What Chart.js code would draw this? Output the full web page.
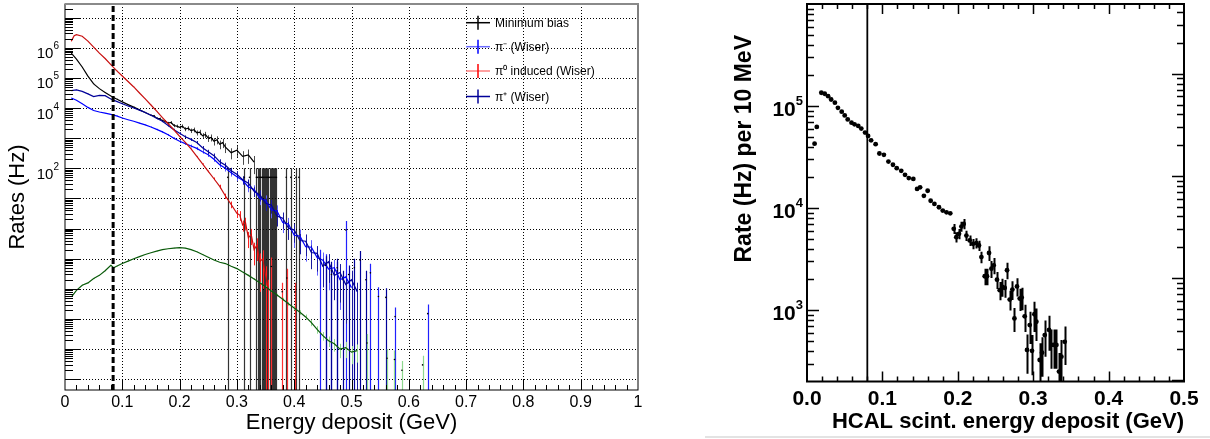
<!DOCTYPE html>
<html>
<head>
<meta charset="utf-8">
<script src="https://cdn.jsdelivr.net/npm/chart.js@4.4.0/dist/chart.umd.min.js"></script>
<style>
  html, body { margin: 0; padding: 0; background: #fff; }
  body { width: 1210px; height: 439px; position: relative; overflow: hidden; }
  #left  { position: absolute; left: 0;     top: 0; width: 660px; height: 439px; }
  #right { position: absolute; left: 700px; top: 0; width: 510px; height: 439px; }
  #sep   { position: absolute; left: 705px; top: 436px; width: 505px; height: 2px; background: #e3e3e3; }
</style>
</head>
<body>
<div id="left"><canvas id="c-left"></canvas></div>
<div id="right"><canvas id="c-right"></canvas></div>
<div id="sep"></div>
<script>
/* =========================================================
   Rates vs energy deposit — two log-scale panels
   ========================================================= */

// ----- left panel: simulated rates (Hz) -----
const LEFT_Y_MIN = 4.4e-6;
const LEFT_Y_MAX = 2.83e7;
const CUT_LEFT = 0.084;      // dotted threshold line

const leftDecades = [1e-5, 1e-4, 1e-3, 1e-2, 1e-1, 1, 1e1, 1e2, 1e3, 1e4, 1e5, 1e6, 1e7];
const leftLabelled = [1e2, 1e4, 1e5, 1e6];
const leftXMajor = [0.1, 0.2, 0.3, 0.4, 0.5, 0.6, 0.7, 0.8, 0.9];

// Minimum bias (black)
const mbX = [0.011, 0.02, 0.03, 0.04, 0.05, 0.06, 0.07, 0.08, 0.09, 0.10, 0.11, 0.12, 0.13, 0.14, 0.15,
  0.155, 0.16, 0.165, 0.17, 0.175, 0.18, 0.185, 0.19, 0.195, 0.20, 0.205, 0.21, 0.215, 0.22, 0.225,
  0.23, 0.235, 0.24, 0.245, 0.25, 0.255, 0.26, 0.265, 0.27, 0.275, 0.28, 0.29, 0.30, 0.31, 0.32, 0.33];
const mbY = [6.6e5, 4.2e5, 2.3e5, 1.15e5, 6.3e4, 4.4e4, 3.3e4, 2.5e4, 2.0e4, 1.6e4, 1.3e4, 1.07e4, 8700, 7100, 5750,
  5500, 4570, 4470, 3800, 3630, 3160, 3310, 2630, 2510, 2290, 2510, 2000, 2140, 1780, 1900,
  1510, 1580, 1200, 1320, 1000, 1050, 790, 890, 630, 710, 500, 330, 400, 250, 280, 160];
const mbRelErr = [0.005, 0.005, 0.005, 0.01, 0.01, 0.01, 0.01, 0.01, 0.02, 0.02, 0.03, 0.03, 0.04, 0.05, 0.06,
  0.07, 0.08, 0.08, 0.09, 0.10, 0.10, 0.11, 0.12, 0.12, 0.13, 0.14, 0.15, 0.16, 0.17, 0.18,
  0.19, 0.20, 0.22, 0.23, 0.25, 0.26, 0.28, 0.30, 0.32, 0.34, 0.36, 0.40, 0.42, 0.48, 0.50, 0.60];
// single-entry bins past the spectrum end (error = content)
const mbTailX = [0.284, 0.313, 0.322, 0.334, 0.336, 0.339, 0.341, 0.343, 0.345, 0.347, 0.349, 0.351, 0.353, 0.355,
  0.357, 0.359, 0.361, 0.363, 0.365, 0.367, 0.369, 0.386, 0.394, 0.403, 0.408];
const mbTailY = [50, 50, 50, 50, 50, 50, 50, 50, 50, 50, 50, 50, 50, 50,
  50, 50, 50, 50, 50, 50, 50, 50, 50, 50, 50];

// pi- (Wiser)
const piMinusX = [0.011, 0.02, 0.03, 0.04, 0.05, 0.06, 0.07, 0.08, 0.09, 0.10, 0.11, 0.12, 0.13, 0.14, 0.15,
  0.16, 0.17, 0.18, 0.19, 0.20, 0.21, 0.22, 0.23, 0.24, 0.25, 0.26, 0.27, 0.28, 0.29, 0.30,
  0.31, 0.32, 0.33, 0.34, 0.35, 0.36, 0.37, 0.38, 0.39, 0.40, 0.41, 0.42, 0.43, 0.44, 0.45,
  0.46, 0.47, 0.48, 0.49, 0.50];
const piMinusY = [21400, 18200, 13800, 10500, 8300, 7400, 6760, 6170, 5500, 4680, 4070, 3630, 3160, 2750, 2340,
  1950, 1620, 1290, 1000, 794, 661, 550, 457, 355, 282, 200, 132, 100, 71, 52,
  40, 24, 20, 10, 8.7, 4.2, 3.8, 1.58, 1.41, 0.60, 0.56, 0.25, 0.24, 0.11, 0.089,
  0.045, 0.050, 0.020, 0.025, 0.011];
const piMinusRelErr = [0.01, 0.01, 0.01, 0.01, 0.01, 0.01, 0.01, 0.01, 0.02, 0.02, 0.02, 0.02, 0.03, 0.03, 0.04,
  0.05, 0.06, 0.07, 0.08, 0.09, 0.10, 0.11, 0.12, 0.14, 0.16, 0.18, 0.20, 0.22, 0.25, 0.28,
  0.30, 0.33, 0.36, 0.40, 0.45, 0.48, 0.55, 0.55, 0.60, 0.62, 0.65, 0.68, 0.72, 0.75, 0.80,
  0.80, 0.85, 0.90, 0.95, 1.0];
const piMinusTailX = [0.445, 0.455, 0.465, 0.475, 0.49, 0.533, 0.547, 0.576, 0.633];
const piMinusTailY = [0.10, 0.07, 0.03, 0.04, 0.9, 0.034, 0.0056, 0.0012, 0.0015];

// pi0 induced (Wiser)
const pi0X = [0.011, 0.016, 0.02, 0.03, 0.04, 0.05, 0.06, 0.07, 0.08, 0.09, 0.10, 0.11, 0.12, 0.13, 0.14,
  0.15, 0.16, 0.17, 0.18, 0.19, 0.20, 0.21, 0.22, 0.23, 0.24, 0.25, 0.26, 0.27, 0.28, 0.29, 0.30,
  0.305, 0.31, 0.315, 0.32, 0.325, 0.33, 0.335, 0.34, 0.345, 0.35, 0.355];
const pi0Y = [1.66e6, 2.5e6, 2.7e6, 2.4e6, 1.66e6, 1.05e6, 6.6e5, 4.4e5, 2.75e5, 1.74e5, 1.15e5, 7.6e4, 5.0e4, 3.16e4, 2.0e4,
  1.26e4, 7900, 4800, 3000, 1900, 1150, 720, 440, 250, 140, 79, 45, 25, 12, 6.3, 3.2,
  2.8, 1.32, 1.58, 0.50, 0.63, 0.20, 0.28, 0.079, 0.10, 0.028, 0.010];
const pi0RelErr = [0.01, 0.01, 0.01, 0.01, 0.01, 0.01, 0.01, 0.01, 0.01, 0.01, 0.01, 0.01, 0.01, 0.01, 0.01,
  0.01, 0.01, 0.01, 0.01, 0.01, 0.02, 0.02, 0.03, 0.03, 0.04, 0.06, 0.10, 0.14, 0.20, 0.25, 0.30,
  0.35, 0.40, 0.45, 0.55, 0.55, 0.70, 0.70, 0.90, 0.90, 1.0, 1.0];
const pi0TailX = [0.36, 0.379, 0.387, 0.401];
const pi0TailY = [0.055, 0.008, 0.023, 0.008];

// pi+ (Wiser)
const piPlusX = [0.011, 0.02, 0.03, 0.04, 0.05, 0.06, 0.07, 0.08, 0.09, 0.10, 0.11, 0.12, 0.13, 0.14, 0.15,
  0.16, 0.17, 0.18, 0.19, 0.20, 0.21, 0.22, 0.23, 0.24, 0.25, 0.26, 0.27, 0.28, 0.29, 0.30,
  0.31, 0.32, 0.33, 0.34, 0.35, 0.36, 0.37, 0.38, 0.39, 0.40, 0.41, 0.42, 0.43, 0.44, 0.45,
  0.46, 0.47, 0.48, 0.49, 0.50, 0.51];
const piPlusY = [38000, 40000, 35500, 29500, 24000, 26300, 25700, 20000, 16600, 13800, 11700, 10000, 8500, 7100, 5750,
  4570, 3630, 2630, 1900, 1450, 1120, 910, 720, 480, 355, 263, 166, 126, 83, 63,
  42, 32, 17.4, 13.2, 6.9, 6.0, 2.6, 2.2, 1.05, 0.89, 0.40, 0.38, 0.16, 0.15, 0.056,
  0.079, 0.028, 0.035, 0.014, 0.020, 0.008];
const piPlusRelErr = [0.01, 0.01, 0.01, 0.01, 0.01, 0.01, 0.01, 0.01, 0.02, 0.02, 0.02, 0.02, 0.03, 0.03, 0.04,
  0.05, 0.06, 0.07, 0.08, 0.09, 0.10, 0.11, 0.12, 0.14, 0.16, 0.18, 0.20, 0.22, 0.25, 0.28,
  0.30, 0.33, 0.36, 0.40, 0.45, 0.48, 0.55, 0.55, 0.60, 0.62, 0.65, 0.68, 0.72, 0.75, 0.80,
  0.80, 0.85, 0.90, 0.95, 1.0, 1.0];
const piPlusTailX = [0.455, 0.465, 0.475, 0.485, 0.495, 0.505, 0.515, 0.525, 0.56];
const piPlusTailY = [0.06, 0.04, 0.05, 0.02, 0.03, 0.05, 0.09, 0.02, 0.0052];

// unlabelled green curve
const greenX = [0.012, 0.02, 0.03, 0.04, 0.05, 0.06, 0.07, 0.08, 0.085, 0.09, 0.10, 0.11, 0.12, 0.13, 0.14,
  0.15, 0.16, 0.17, 0.18, 0.19, 0.20, 0.21, 0.22, 0.23, 0.24, 0.25, 0.26, 0.27, 0.28, 0.29,
  0.30, 0.31, 0.32, 0.33, 0.34, 0.35, 0.36, 0.37, 0.38, 0.39, 0.40, 0.41, 0.42, 0.43, 0.44,
  0.45, 0.46, 0.47, 0.48, 0.49, 0.50, 0.51];
const greenY = [0.0056, 0.0089, 0.0132, 0.0158, 0.0219, 0.028, 0.040, 0.060, 0.050, 0.056, 0.069, 0.083, 0.100, 0.117, 0.138,
  0.158, 0.178, 0.20, 0.214, 0.226, 0.232, 0.224, 0.20, 0.170, 0.138, 0.112, 0.091, 0.076, 0.069, 0.056,
  0.047, 0.036, 0.028, 0.0214, 0.0158, 0.0117, 0.0085, 0.0062, 0.0045, 0.0032, 0.0023, 0.00166, 0.00117, 0.00076, 0.00045,
  0.00028, 0.00019, 0.00015, 0.0001, 0.000112, 0.000079, 0.000089];
const greenRelErr = [0.04, 0.04, 0.04, 0.04, 0.04, 0.04, 0.04, 0.04, 0.04, 0.02, 0.02, 0.02, 0.02, 0.02, 0.02,
  0.02, 0.02, 0.02, 0.02, 0.02, 0.02, 0.02, 0.02, 0.02, 0.02, 0.02, 0.02, 0.02, 0.02, 0.02,
  0.02, 0.04, 0.05, 0.06, 0.07, 0.08, 0.09, 0.10, 0.12, 0.14, 0.16, 0.18, 0.20, 0.24, 0.28,
  0.32, 0.38, 0.45, 0.50, 0.55, 0.60, 0.60];
const greenTailX = [0.527, 0.562, 0.575, 0.588, 0.624];
const greenTailY = [0.00016, 0.00005, 0.000045, 0.00002, 0.00003];

// ----- right panel: HCAL scintillator rate per 10 MeV -----
const RIGHT_Y_MIN = 200;
const RIGHT_Y_MAX = 1e6;
const CUT_RIGHT = 0.08;
const RIGHT_AXIS_SHIFT = 2.07;   // right-hand tick marks sit ~0.3 decade higher in the original
const rightDecades = [1e2, 1e3, 1e4, 1e5, 1e6];
const rightLabelled = [1e3, 1e4, 1e5];

const hcalX = [0.010, 0.013, 0.019, 0.0235, 0.028, 0.032, 0.037, 0.041, 0.046, 0.050, 0.054, 0.059, 0.063, 0.068, 0.072,
  0.077, 0.081, 0.085, 0.091, 0.096, 0.102, 0.108, 0.114, 0.119, 0.125, 0.130, 0.135, 0.141, 0.146, 0.150,
  0.155, 0.160, 0.164, 0.169, 0.175, 0.180, 0.185, 0.190,
  0.1946, 0.198, 0.2016, 0.2048, 0.2078, 0.2114, 0.2158, 0.2202, 0.2247, 0.2281, 0.2313,
  0.2357, 0.2387, 0.2414, 0.2446, 0.2476, 0.252, 0.2556, 0.2591, 0.2622, 0.2653, 0.2688, 0.2724, 0.2751, 0.2785,
  0.2821, 0.2847, 0.2887, 0.2918, 0.2954, 0.2984, 0.3016, 0.3042, 0.3086, 0.3117, 0.3153, 0.321, 0.3241, 0.3272,
  0.3308, 0.3342, 0.3374, 0.3418];
const hcalY = [42800, 62400, 135000, 132000, 125000, 116000, 108000, 96000, 88000, 81000, 74000, 68700, 66200, 63800, 60200,
  55000, 51000, 46200, 42300, 34300, 33300, 28600, 26600, 24600, 23200, 21200, 19700, 19300, 15400, 16000,
  13200, 14800, 11800, 11000, 10200, 9460, 9100, 8900,
  6270, 5190, 5600, 6600, 7000, 5380, 4820, 4470, 4540, 4300, 3310,
  2150, 2150, 3630, 2550, 2750, 1990, 1570, 1690, 1650, 2460, 1270, 1590, 830, 1710,
  1300, 1330, 870, 408, 715, 400, 912, 770, 325, 383, 570, 640, 456, 456,
  456, 250, 350, 490];
const hcalErr = [860, 1250, 2700, 2640, 2500, 2300, 2200, 1900, 1800, 1600, 1500, 1400, 1300, 1300, 1200,
  1100, 1000, 900, 850, 700, 670, 570, 530, 490, 460, 420, 400, 390, 310, 320,
  270, 300, 240, 250, 250, 240, 240, 240,
  700, 600, 650, 750, 800, 620, 560, 520, 520, 500, 420,
  400, 400, 600, 480, 500, 380, 320, 340, 330, 450, 280, 330, 220, 350,
  320, 330, 260, 170, 250, 170, 300, 270, 150, 160, 220, 240, 190, 190,
  190, 130, 160, 200];

// ----- helpers -----
const FONT = '"Liberation Sans", Arial, Helvetica, sans-serif';
Chart.defaults.font.family = FONT;
Chart.defaults.color = "#000";

const pts = (xs, ys) => xs.map((x, i) => ({ x, y: ys[i] }));
const absErr = (ys, rel) => ys.map((y, i) => y * rel[i]);
const logMinors = (decades) => decades.flatMap(d => [2, 3, 4, 5, 6, 7, 8, 9].map(m => d * m));
const stepTicks = (step, n, skipEvery) => {
  const out = [];
  for (let i = 1; i < n; i++) if (!skipEvery || i % skipEvery) out.push(+(i * step).toFixed(4));
  return out;
};
// fixed axis boxes so the plot area lands where the original has it
const fixHeight = (h) => (s) => { s.height = h; s.paddingLeft = 0; s.paddingRight = 0; };
const fixWidth = (w) => (s) => { s.width = w; s.paddingTop = 0; s.paddingBottom = 0; };

// ----- plugins -----
// dotted grid (under the data), inward tick marks and frame (over the data)
const rootAxes = {
  id: "rootAxes",
  beforeDatasetsDraw(chart, args, o) {
    if (!o.grid) return;
    const { ctx, chartArea: a, scales: { x, y } } = chart;
    ctx.save();
    ctx.strokeStyle = o.grid.color;
    ctx.lineWidth = 1;
    ctx.setLineDash(o.grid.dash);
    ctx.beginPath();
    o.grid.x.forEach(v => {
      const px = Math.round(x.getPixelForValue(v)) + 0.5;
      ctx.moveTo(px, a.top); ctx.lineTo(px, a.bottom);
    });
    o.grid.y.forEach(v => {
      const py = Math.round(y.getPixelForValue(v)) + 0.5;
      ctx.moveTo(a.left, py); ctx.lineTo(a.right, py);
    });
    ctx.stroke();
    ctx.restore();
  },
  afterDatasetsDraw(chart, args, o) {
    const { ctx, chartArea: a, scales: { x, y } } = chart;
    const inX = v => v > x.min && v < x.max;
    const inY = v => v > y.min && v < y.max;
    ctx.save();
    ctx.strokeStyle = "#000";
    ctx.lineWidth = o.tickWidth;
    ctx.beginPath();
    const xTicks = (vals, len) => vals.filter(inX).forEach(v => {
      const px = Math.round(x.getPixelForValue(v)) + 0.5;
      ctx.moveTo(px, a.bottom); ctx.lineTo(px, a.bottom - len);
      if (o.mirror) { ctx.moveTo(px, a.top); ctx.lineTo(px, a.top + len); }
    });
    const yTicks = (vals, len) => {
      vals.filter(inY).forEach(v => {
        const py = Math.round(y.getPixelForValue(v)) + 0.5;
        ctx.moveTo(a.left, py); ctx.lineTo(a.left + len, py);
      });
      if (o.mirror) vals.map(v => v * o.rightShift).filter(inY).forEach(v => {
        const py = Math.round(y.getPixelForValue(v)) + 0.5;
        ctx.moveTo(a.right, py); ctx.lineTo(a.right - len, py);
      });
    };
    xTicks(o.xMajor, o.xMajorLen);
    xTicks(o.xMinor, o.xMinorLen);
    yTicks(o.yMajor, o.yMajorLen);
    yTicks(o.yMinor, o.yMinorLen);
    ctx.stroke();

    // frame
    ctx.lineWidth = o.frameWidth;
    ctx.strokeStyle = "#000";
    ctx.strokeRect(a.left, a.top, a.right - a.left, a.bottom - a.top);
    if (o.topColor) {
      ctx.strokeStyle = o.topColor;
      ctx.lineWidth = 2;
      ctx.beginPath(); ctx.moveTo(a.left, a.top); ctx.lineTo(a.right + 1, a.top); ctx.stroke();
    }
    ctx.restore();
  },
};

// "10" with a raised exponent, right-aligned next to the y axis
const powLabels = {
  id: "powLabels",
  afterDraw(chart, args, o) {
    const { ctx, chartArea: a, scales: { y } } = chart;
    ctx.save();
    ctx.fillStyle = "#000";
    ctx.textAlign = "left";
    ctx.textBaseline = "alphabetic";
    o.values.forEach(v => {
      const py = y.getPixelForValue(v);
      const exp = String(Math.round(Math.log10(v)));
      ctx.font = o.expFont;
      const we = ctx.measureText(exp).width;
      ctx.font = o.font;
      const wb = ctx.measureText("10").width;
      const right = a.left - o.pad;
      ctx.fillText("10", right - we - wb, py + o.baseShift);
      ctx.font = o.expFont;
      ctx.fillText(exp, right - we, py + o.baseShift - o.raise);
    });
    ctx.restore();
  },
};

// vertical error bars from dataset.errors, clipped to the plot
const errorBars = {
  id: "errorBars",
  beforeDatasetsDraw(chart) {
    const { ctx, chartArea: a, scales: { x, y } } = chart;
    ctx.save();
    ctx.beginPath();
    ctx.rect(a.left, a.top, a.right - a.left, a.bottom - a.top);
    ctx.clip();
    const list = chart.data.datasets.filter(ds => ds.errors).sort((p, q) => (q.order || 0) - (p.order || 0));
    list.forEach(ds => {
      ctx.strokeStyle = ds.errorColor;
      ctx.lineWidth = ds.errorWidth || 1;
      ctx.beginPath();
      ds.data.forEach((p, j) => {
        const e = ds.errors[j];
        const px = Math.round(x.getPixelForValue(p.x)) + 0.5;
        const lo = p.y - e;
        const yLo = lo > 0 ? Math.min(y.getPixelForValue(lo), a.bottom) : a.bottom;
        const yHi = y.getPixelForValue(p.y + e);
        ctx.moveTo(px, yLo); ctx.lineTo(px, yHi);
      });
      ctx.stroke();
    });
    ctx.restore();
  },
};

// ROOT-style legend: horizontal line + vertical error bar, then the label
const rootLegend = {
  id: "rootLegend",
  afterDraw(chart, args, o) {
    if (!o.items) return;
    const ctx = chart.ctx;
    ctx.save();
    ctx.font = o.font;
    ctx.textBaseline = "middle";
    ctx.fillStyle = "#000";
    o.items.forEach((it, i) => {
      const cy = o.ys[i];
      ctx.lineWidth = 1.5;
      ctx.strokeStyle = it.line;
      ctx.beginPath(); ctx.moveTo(o.x, cy); ctx.lineTo(o.x + o.w, cy); ctx.stroke();
      ctx.strokeStyle = it.bar;
      ctx.beginPath(); ctx.moveTo(o.x + o.w / 2, cy - 7); ctx.lineTo(o.x + o.w / 2, cy + 7); ctx.stroke();
      ctx.fillText(it.label, o.x + o.w + 5, cy + 1);
    });
    ctx.restore();
  },
};

// rotated axis title placed freely (top-aligned)
const sideTitle = {
  id: "sideTitle",
  afterDraw(chart, args, o) {
    if (!o.text) return;
    const ctx = chart.ctx;
    ctx.save();
    ctx.font = o.font;
    ctx.fillStyle = "#000";
    ctx.textAlign = "right";
    ctx.textBaseline = "middle";
    ctx.translate(o.x, o.y);
    ctx.rotate(-Math.PI / 2);
    ctx.fillText(o.text, 0, 0);
    ctx.restore();
  },
};

// ----- left chart -----
const curve = (label, xs, ys, rel, line, errColor, order) => ({
  label, data: pts(xs, ys), errors: absErr(ys, rel), errorColor: errColor,
  showLine: true, borderColor: line, borderWidth: 1.2, pointRadius: 0, tension: 0, order,
});
const tail = (xs, ys, errColor, order) => ({
  label: "", data: pts(xs, ys), errors: ys.slice(), errorColor: errColor, errorWidth: 1.2,
  showLine: false, pointRadius: 0.8, pointBackgroundColor: "#000", pointBorderWidth: 0, order,
});

const MB_COLOR = "#000000", PIM_COLOR = "#0000ff", PI0_COLOR = "#c81010", PIP_COLOR = "#000099", GREEN_COLOR = "#0a5a0a";

new Chart(document.getElementById("c-left"), {
  type: "scatter",
  data: {
    datasets: [
      {
        label: "cut", data: [{ x: CUT_LEFT, y: LEFT_Y_MIN }, { x: CUT_LEFT, y: LEFT_Y_MAX }],
        showLine: true, borderColor: "#000", borderWidth: 3, borderDash: [6, 3], pointRadius: 0, order: 0,
      },
      curve("", greenX, greenY, greenRelErr, GREEN_COLOR, "#8fd88f", 1),
      tail(greenTailX, greenTailY, "#8fd88f", 1),
      curve("π⁰ induced (Wiser)", pi0X, pi0Y, pi0RelErr, PI0_COLOR, "#ff2020", 2),
      tail(pi0TailX, pi0TailY, "#ff3030", 2),
      curve("π⁺ (Wiser)", piPlusX, piPlusY, piPlusRelErr, PIP_COLOR, "#1a1aa0", 3),
      tail(piPlusTailX, piPlusTailY, "#000099", 3),
      curve("π⁻ (Wiser)", piMinusX, piMinusY, piMinusRelErr, PIM_COLOR, "#6060ff", 4),
      tail(piMinusTailX, piMinusTailY, "#2020ff", 4),
      curve("Minimum bias", mbX, mbY, mbRelErr, MB_COLOR, "rgba(0,0,0,0.7)", 5),
      tail(mbTailX, mbTailY, "rgba(0,0,0,0.8)", 5),
    ],
  },
  options: {
    responsive: true,
    maintainAspectRatio: false,
    animation: false,
    events: [],
    layout: { padding: { top: 2, right: 22, left: 0, bottom: 0 } },
    scales: {
      x: {
        type: "linear", min: 0, max: 1,
        afterFit: fixHeight(49),
        grid: { display: false }, border: { display: false },
        ticks: { stepSize: 0.1, padding: -5, font: { size: 16 }, maxRotation: 0, autoSkip: false,
                 callback: (v) => String(+v.toFixed(1)) },
        title: { display: true, text: "Energy deposit (GeV)", font: { size: 22 }, padding: { top: 0, bottom: 3 } },
      },
      y: {
        type: "logarithmic", min: LEFT_Y_MIN, max: LEFT_Y_MAX,
        afterFit: fixWidth(65),
        afterBuildTicks: (s) => { s.ticks = leftDecades.map(v => ({ value: v })); },
        grid: { display: false }, border: { display: false },
        ticks: { display: false },
        title: { display: true, text: "Rates (Hz)", font: { size: 22 }, padding: { top: 5, bottom: 0 } },
      },
    },
    plugins: {
      legend: { display: false },
      tooltip: { enabled: false },
      rootAxes: {
        grid: { color: "#000", dash: [1, 2], x: leftXMajor, y: leftDecades },
        xMajor: leftXMajor, xMinor: stepTicks(0.02, 50, 5), xMajorLen: 10, xMinorLen: 5,
        yMajor: leftDecades, yMinor: logMinors(leftDecades), yMajorLen: 15, yMinorLen: 8,
        tickWidth: 1, frameWidth: 1, topColor: "#8a8a8a", mirror: false,
      },
      powLabels: {
        values: leftLabelled, pad: 6, font: "15px " + FONT, expFont: "10px " + FONT, baseShift: 10.5, raise: 9,
      },
      rootLegend: {
        x: 466, w: 24, ys: [22.7, 46.7, 71, 96.5], font: "12px " + FONT,
        items: [
          { label: "Minimum bias", line: MB_COLOR, bar: MB_COLOR },
          { label: "π⁻ (Wiser)", line: "#6b6bff", bar: PIM_COLOR },
          { label: "π⁰ induced (Wiser)", line: "#ff8080", bar: "#ff0000" },
          { label: "π⁺ (Wiser)", line: PIP_COLOR, bar: PIP_COLOR },
        ],
      },
    },
  },
  plugins: [rootAxes, errorBars, powLabels, rootLegend],
});

// ----- right chart -----
new Chart(document.getElementById("c-right"), {
  type: "scatter",
  data: {
    datasets: [
      {
        label: "HCAL", data: pts(hcalX, hcalY), errors: hcalErr, errorColor: "#000", errorWidth: 2,
        showLine: false, pointRadius: 2.4, pointBackgroundColor: "#000", pointBorderWidth: 0, order: 1,
      },
      {
        label: "cut", data: [{ x: CUT_RIGHT, y: RIGHT_Y_MIN }, { x: CUT_RIGHT, y: RIGHT_Y_MAX }],
        showLine: true, borderColor: "#000", borderWidth: 1.8, pointRadius: 0, order: 0,
      },
    ],
  },
  options: {
    responsive: true,
    maintainAspectRatio: false,
    animation: false,
    events: [],
    layout: { padding: { top: 2, right: 26, left: 0, bottom: 0 } },
    scales: {
      x: {
        type: "linear", min: 0, max: 0.5,
        afterFit: fixHeight(57.5),
        grid: { display: false }, border: { display: false },
        ticks: { stepSize: 0.1, padding: -3, font: { size: 21, weight: "bold" }, maxRotation: 0, autoSkip: false,
                 callback: (v) => v.toFixed(1) },
        title: { display: true, text: "HCAL scint. energy deposit (GeV)", align: "end",
                 font: { size: 22, weight: "bold" }, padding: { top: 0, bottom: 4 } },
      },
      y: {
        type: "logarithmic", min: RIGHT_Y_MIN, max: RIGHT_Y_MAX,
        afterFit: fixWidth(107),
        afterBuildTicks: (s) => { s.ticks = rightLabelled.map(v => ({ value: v })); },
        grid: { display: false }, border: { display: false },
        ticks: { display: false },
      },
    },
    plugins: {
      legend: { display: false },
      tooltip: { enabled: false },
      rootAxes: {
        xMajor: [0.1, 0.2, 0.3, 0.4], xMinor: stepTicks(0.02, 25, 5), xMajorLen: 10, xMinorLen: 5,
        yMajor: rightDecades, yMinor: logMinors(rightDecades), yMajorLen: 12, yMinorLen: 7,
        tickWidth: 1.5, frameWidth: 2, mirror: true, rightShift: RIGHT_AXIS_SHIFT,
      },
      powLabels: {
        values: rightLabelled, pad: 4, font: "bold 21px " + FONT, expFont: "bold 13px " + FONT, baseShift: 10, raise: 11,
      },
      sideTitle: { text: "Rate (Hz) per 10 MeV", x: 45, y: 35, font: "bold 23px " + FONT },
    },
  },
  plugins: [rootAxes, errorBars, powLabels, sideTitle],
});
</script>
</body>
</html>
